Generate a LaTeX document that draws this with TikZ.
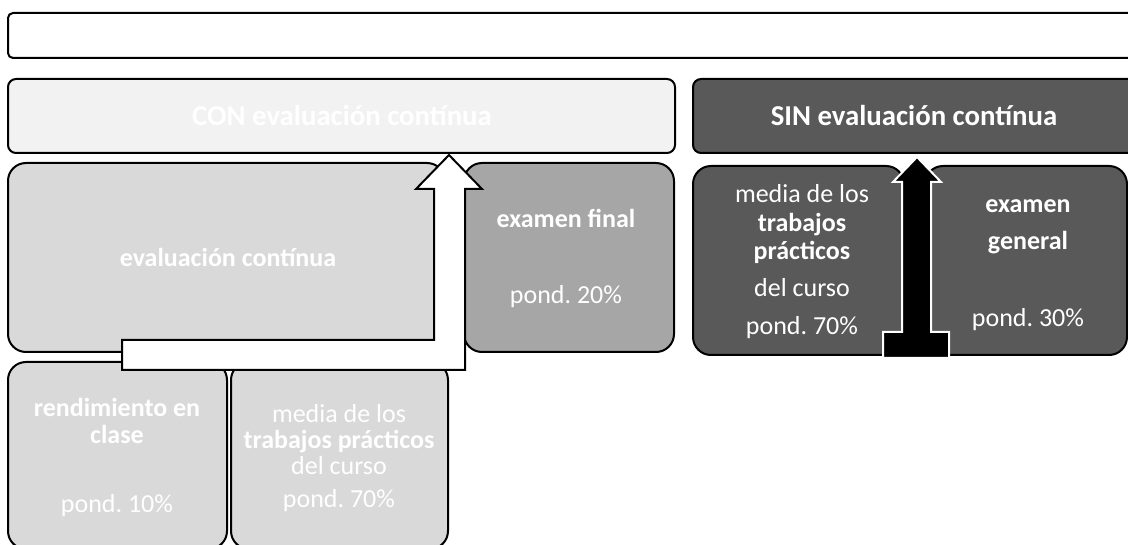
\documentclass[tikz,border=0pt]{standalone}
\usepackage{fontspec}
\setmainfont{Carlito}
\frenchspacing
\definecolor{cLight}{HTML}{F2F2F2}
\definecolor{cMid}{HTML}{D9D9D9}
\definecolor{cGray}{HTML}{A6A6A6}
\definecolor{cDark}{HTML}{595959}
\begin{document}
\begin{tikzpicture}[x=1pt,y=-1pt,
  box/.style={draw=black, line width=2pt, anchor=north west, inner sep=0pt, outer sep=0pt},
  txt/.style={text=white, inner sep=0pt, anchor=base, font=\fontsize{26}{27}\selectfont},
  btxt/.style={txt, font=\fontsize{26}{27}\selectfont\bfseries},
  ttxt/.style={txt, font=\fontsize{28.8}{30}\selectfont\bfseries}]
\useasboundingbox (0,0) rectangle (1128,545);
\clip (0,0) rectangle (1128,545);
% top boxes
\node[box, fill=white, rounded corners=5pt, minimum width=1140pt, minimum height=45pt] (top) at (8,13) {};
\node[box, fill=cLight, rounded corners=8pt, minimum width=667pt, minimum height=74pt] (con) at (8,79) {};
\node[box, fill=cDark, rounded corners=8pt, minimum width=450pt, minimum height=74pt] (sin) at (693,79) {};
% CON side
\node[box, fill=cMid, rounded corners=18pt, minimum width=437pt, minimum height=189pt] (evc) at (8,163) {};
\node[box, fill=cGray, rounded corners=18pt, minimum width=210pt, minimum height=189pt] (exf) at (464,163) {};
\node[box, fill=cMid, rounded corners=18pt, minimum width=219pt, minimum height=187pt] (ren) at (8,362) {};
\node[box, fill=cMid, rounded corners=18pt, minimum width=217pt, minimum height=187pt] (med1) at (231,362) {};
% SIN side
\node[box, fill=cDark, rounded corners=18pt, minimum width=211pt, minimum height=189pt] (med2) at (693,166) {};
\node[box, fill=cDark, rounded corners=18pt, minimum width=202pt, minimum height=189pt] (exg) at (925,166) {};
% texts
\node[ttxt] (tcon) at (342,126) {CON evaluación contínua};
\node[ttxt] (tsin) at (914,126) {SIN evaluación contínua};
\node[btxt] (tevc) at (228,267) {evaluación contínua};
\node[btxt] (texf) at (566,228) {examen final};
\node[txt] (pexf) at (566,304) {pond. 20\%};
\node[btxt] (tren1) at (117,417) {rendimiento en};
\node[btxt] (tren2) at (117,443) {clase};
\node[txt] (pren) at (117,512) {pond. 10\%};
\node[txt] (tm1a) at (339,422) {media de los};
\node[btxt] (tm1b) at (339,448) {trabajos prácticos};
\node[txt] (tm1c) at (339,474) {del curso};
\node[txt] (pm1) at (339,507) {pond. 70\%};
\node[txt] (tm2a) at (802,203) {media de los};
\node[btxt] (tm2b) at (802,232) {trabajos};
\node[btxt] (tm2c) at (802,260) {prácticos};
\node[txt] (tm2d) at (802,297) {del curso};
\node[txt] (pm2) at (802,335) {pond. 70\%};
\node[btxt] (teg1) at (1028,213) {examen};
\node[btxt] (teg2) at (1028,250) {general};
\node[txt] (peg) at (1028,327) {pond. 30\%};
% white bent arrow
\draw[fill=white, draw=black, line width=2pt, line join=miter]
  (122,340) -- (434,340) -- (434,189) -- (416,189) -- (449,155) -- (482,189)
  -- (465,189) -- (465,370) -- (122,370) -- cycle;
% black up arrow with base
\draw[fill=black, draw=white, line width=2pt, line join=miter]
  (917,157) -- (941,182) -- (931,182) -- (931,332) -- (949,332) -- (949,358)
  -- (883,358) -- (883,332) -- (902,332) -- (902,182) -- (893,182) -- cycle;
\end{tikzpicture}
\end{document}
